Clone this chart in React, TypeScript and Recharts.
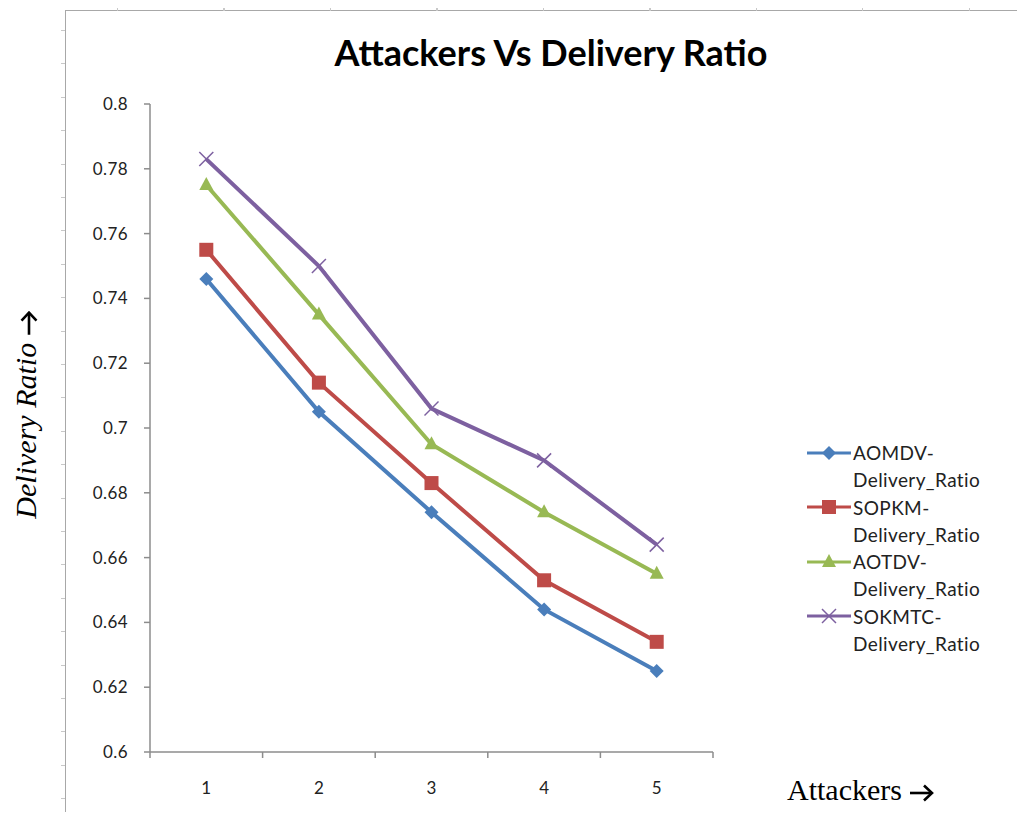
import React from 'react';
import { LineChart, Line, XAxis, YAxis } from 'recharts';

const attackers = [1, 2, 3, 4, 5];
const aomdv = [0.746, 0.705, 0.674, 0.644, 0.625];
const sopkm = [0.755, 0.714, 0.683, 0.653, 0.634];
const aotdv = [0.775, 0.735, 0.695, 0.674, 0.655];
const sokmtc = [0.783, 0.750, 0.706, 0.690, 0.664];

const yTicks = [0.6, 0.62, 0.64, 0.66, 0.68, 0.7, 0.72, 0.74, 0.76, 0.78, 0.8];
const xTicks = [0.5, 1, 1.5, 2, 2.5, 3, 3.5, 4, 4.5, 5, 5.5];

const SERIES = [
  { key: 'aomdv', name: 'AOMDV-', color: '#4a7ebb', shape: 'diamond' },
  { key: 'sopkm', name: 'SOPKM-', color: '#be4b48', shape: 'square' },
  { key: 'aotdv', name: 'AOTDV-', color: '#98b954', shape: 'triangle' },
  { key: 'sokmtc', name: 'SOKMTC-', color: '#7d60a0', shape: 'cross' },
];

const data = attackers.map((x, i) => ({
  x,
  aomdv: aomdv[i],
  sopkm: sopkm[i],
  aotdv: aotdv[i],
  sokmtc: sokmtc[i],
}));

const SANS = 'Lato, "Open Sans", sans-serif';
const SERIF = '"Liberation Serif", "Times New Roman", serif';
const AXIS_GRAY = '#8c8c8c';

function Marker({ shape, color, cx, cy }: { shape: string; color: string; cx: number; cy: number }) {
  if (shape === 'diamond') {
    const s = 7;
    return <polygon points={`${cx},${cy - s} ${cx + s},${cy} ${cx},${cy + s} ${cx - s},${cy}`} fill={color} />;
  }
  if (shape === 'square') {
    return <rect x={cx - 7} y={cy - 7} width={14} height={14} fill={color} />;
  }
  if (shape === 'triangle') {
    return <polygon points={`${cx},${cy - 8} ${cx + 7},${cy + 5} ${cx - 7},${cy + 5}`} fill={color} />;
  }
  return (
    <g stroke={color} strokeWidth={1.5}>
      <line x1={cx - 7} y1={cy - 7} x2={cx + 7} y2={cy + 7} />
      <line x1={cx - 7} y1={cy + 7} x2={cx + 7} y2={cy - 7} />
    </g>
  );
}

function Arrow() {
  return (
    <svg width={26} height={18} style={{ display: 'inline-block', verticalAlign: 'middle' }}>
      <line x1={1} y1={9} x2={23} y2={9} stroke="#000" strokeWidth={2.6} />
      <polyline points="15,1.5 23,9 15,16.5" fill="none" stroke="#000" strokeWidth={2.6} />
    </svg>
  );
}

function XTick(props: any) {
  const { x, y, payload } = props;
  const v = payload.value;
  if (Number.isInteger(v)) {
    return (
      <text x={x} y={y + 42} textAnchor="middle" fontSize={17} fontFamily={SANS} fill="#222">
        {v}
      </text>
    );
  }
  return <line x1={x} y1={y} x2={x} y2={y + 6} stroke={AXIS_GRAY} strokeWidth={1.5} />;
}

function ChartLegend() {
  return (
    <div style={{ position: 'absolute', left: 805, top: 439, fontFamily: SANS, fontSize: 19, letterSpacing: 0.4, color: '#222', lineHeight: '27.3px' }}>
      {SERIES.map((s) => (
        <div key={s.key}>
          <div style={{ display: 'flex', alignItems: 'center' }}>
            <svg width={48} height={16} style={{ display: 'block' }}>
              <line x1={2} y1={8} x2={46} y2={8} stroke={s.color} strokeWidth={3} />
              <Marker shape={s.shape} color={s.color} cx={24} cy={8} />
            </svg>
            <span>{s.name}</span>
          </div>
          <div style={{ paddingLeft: 48 }}>Delivery_Ratio</div>
        </div>
      ))}
    </div>
  );
}

export default function App() {
  return (
    <div style={{ position: 'relative', width: 1025, height: 820, margin: -8, background: '#fff', overflow: 'hidden' }}>
      {/* page frame with faint ruler ticks */}
      <div style={{ position: 'absolute', left: 65, top: 10, width: 1000, height: 900, borderLeft: '1.5px solid #a8a8a8', borderTop: '1.5px solid #a8a8a8' }} />
      <div style={{ position: 'absolute', left: 61, top: 30, width: 4, height: 790, backgroundImage: 'repeating-linear-gradient(to bottom, #c8c8c8 0 1px, transparent 1px 33.4px)' }} />
      <div style={{ position: 'absolute', left: 117, top: 5, width: 908, height: 6, backgroundImage: 'repeating-linear-gradient(to right, #c8c8c8 0 1px, transparent 1px 106.5px)' }} />

      <div style={{ position: 'absolute', left: 251, top: 30, width: 600, textAlign: 'center', fontFamily: SANS, fontWeight: 700, fontSize: 36, color: '#000' }}>
        Attackers Vs Delivery Ratio
      </div>

      <div style={{ position: 'absolute', left: 26, top: 414, width: 0, height: 0 }}>
        <div style={{ position: 'absolute', transform: 'translate(-50%, -50%) rotate(-90deg)', whiteSpace: 'nowrap', fontFamily: SERIF, fontSize: 30, color: '#000' }}>
          <i>Delivery Ratio</i> <Arrow />
        </div>
      </div>

      <div style={{ position: 'absolute', left: 787, top: 773, whiteSpace: 'nowrap', fontFamily: SERIF, fontSize: 30, color: '#000' }}>
        Attackers <Arrow />
      </div>

      <ChartLegend />

      <div style={{ position: 'absolute', left: 0, top: 0 }}>
        <LineChart width={1025} height={820} data={data} margin={{ top: 104, right: 312, bottom: 28, left: 90 }}>
          <XAxis
            dataKey="x"
            type="number"
            domain={[0.5, 5.5]}
            ticks={xTicks}
            interval={0}
            height={40}
            tickSize={0}
            tickMargin={0}
            tickLine={false}
            tick={<XTick />}
            axisLine={{ stroke: AXIS_GRAY, strokeWidth: 1.5 }}
          />
          <YAxis
            type="number"
            domain={[0.6, 0.8]}
            ticks={yTicks}
            interval={0}
            width={60}
            tickSize={6}
            tickMargin={16}
            tickFormatter={(v: number) => String(Number(v.toFixed(2)))}
            tick={{ fontSize: 17, fontFamily: SANS, fill: '#222', letterSpacing: 0.4 }}
            tickLine={{ stroke: AXIS_GRAY, strokeWidth: 1.5 }}
            axisLine={{ stroke: AXIS_GRAY, strokeWidth: 1.5 }}
          />
          {SERIES.map((s) => (
            <Line
              key={s.key}
              dataKey={s.key}
              name={s.name}
              stroke={s.color}
              strokeWidth={4}
              isAnimationActive={false}
              dot={(p: any) => <Marker key={`${s.key}-${p.index}`} shape={s.shape} color={s.color} cx={p.cx} cy={p.cy} />}
              activeDot={false}
            />
          ))}
        </LineChart>
      </div>
    </div>
  );
}
